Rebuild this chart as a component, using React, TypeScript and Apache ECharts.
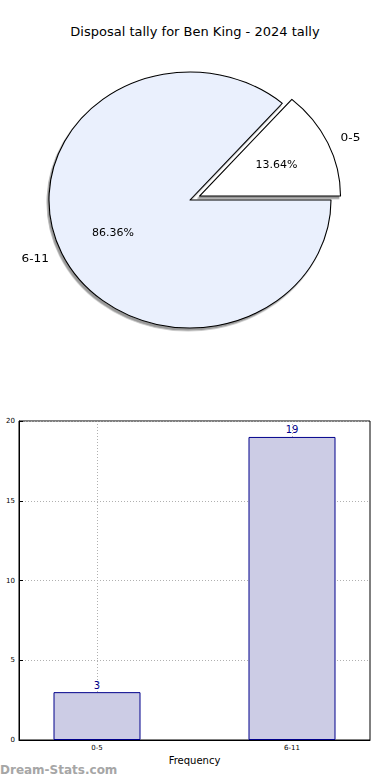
import React, { useEffect, useRef } from "react";
import * as echarts from "echarts";

const categories = ["0-5", "6-11"];
const values = [3, 19];
const sliceColors = ["#ffffff", "#eaf0fd"];
const yTicks = [0, 5, 10, 15, 20];
const titleText = "Disposal tally for Ben King - 2024 tally";

const FONT = "DejaVu Sans";
const RX = 141;
const RY = 128;

export default function App() {
  const pieRef = useRef<HTMLDivElement>(null);
  const barRef = useRef<HTMLDivElement>(null);

  useEffect(() => {
    const bar = echarts.init(barRef.current!, undefined, { renderer: "svg" });
    const pie = echarts.init(pieRef.current!, undefined, { renderer: "svg" });

    bar.setOption({
      animation: false,
      title: {
        text: titleText,
        left: "center",
        top: 20,
        textStyle: { fontFamily: FONT, fontSize: 13, fontWeight: "normal", color: "#000" },
      },
      graphic: [
        {
          type: "text",
          left: 0,
          top: 764,
          style: { text: "Dream-Stats.com", fill: "#a6a6a6", font: `bold 12px '${FONT}'` },
        },
      ],
      grid: {
        left: 19,
        right: 20,
        top: 421,
        bottom: 40,
        show: true,
        borderColor: "#000",
        borderWidth: 1,
        containLabel: false,
        outerBoundsMode: "none",
      },
      xAxis: {
        type: "value",
        min: -0.4,
        max: 1.4,
        name: "Frequency",
        nameLocation: "middle",
        nameGap: 15,
        nameTextStyle: { fontFamily: FONT, fontSize: 10, color: "#000" },
        axisLine: { show: true, onZero: false, lineStyle: { color: "#000" } },
        axisTick: { show: true, inside: true, length: 4, customValues: [0, 1], lineStyle: { color: "#000" } },
        axisLabel: {
          customValues: [0, 1],
          formatter: (v: number) => categories[Math.round(v)] ?? "",
          fontFamily: FONT,
          fontSize: 7,
          color: "#000",
          margin: 4,
        },
        splitLine: { show: true, lineStyle: { color: "#b0b0b0", type: [1, 2] } },
      },
      yAxis: {
        type: "value",
        min: yTicks[0],
        max: yTicks[yTicks.length - 1],
        interval: 5,
        name: "Disposal tally",
        nameLocation: "middle",
        nameGap: 20,
        nameTextStyle: { fontFamily: FONT, fontSize: 9, color: "#000" },
        axisLine: { show: true, onZero: false, lineStyle: { color: "#000" } },
        axisTick: { show: true, inside: true, length: 4, lineStyle: { color: "#000" } },
        axisLabel: { fontFamily: FONT, fontSize: 7, color: "#000", margin: 4 },
        splitLine: { show: true, lineStyle: { color: "#b0b0b0", type: [1, 2] } },
      },
      series: [
        {
          type: "bar",
          data: categories.map((c, i) => [i, values[i]]),
          barWidth: 87,
          itemStyle: { color: "#ccccE5", borderColor: "#00008B", borderWidth: 1 },
          label: {
            show: true,
            position: "top",
            distance: 2,
            color: "#00008B",
            fontFamily: FONT,
            fontSize: 10,
            formatter: (p: any) => String(p.value[1]),
          },
          emphasis: { disabled: true },
        },
      ],
    });

    const pieData = categories.map((c, i) => ({
      name: c,
      value: values[i],
      selected: i === 0,
      itemStyle: { color: sliceColors[i] },
    }));

    pie.setOption({
      animation: false,
      series: [
        {
          type: "pie",
          center: [190, 200],
          radius: RY,
          startAngle: 0,
          clockwise: false,
          selectedMode: "single",
          selectedOffset: 9.5,
          avoidLabelOverlap: false,
          data: pieData,
          itemStyle: {
            borderColor: "#000",
            borderWidth: 1,
            shadowColor: "rgba(0,0,0,0.4)",
            shadowOffsetX: -1.5,
            shadowOffsetY: 2.5,
            shadowBlur: 0,
          },
          select: { itemStyle: { borderColor: "#000", borderWidth: 1 } },
          label: {
            show: true,
            position: "outside",
            formatter: "{b}",
            fontFamily: FONT,
            fontSize: 11,
            color: "#000",
            distanceToLabelLine: 0,
          },
          labelLine: { show: false, length: RY * 0.1, length2: 0 },
          emphasis: { disabled: true },
        },
        {
          type: "pie",
          center: [190, 200],
          radius: RY * 1.2 - 6,
          startAngle: 0,
          clockwise: false,
          selectedMode: "single",
          selectedOffset: 9.5,
          avoidLabelOverlap: false,
          silent: true,
          data: pieData.map((d) => ({ ...d, itemStyle: { color: "transparent" } })),
          itemStyle: { borderWidth: 0 },
          select: { itemStyle: { borderWidth: 0, color: "transparent" } },
          label: {
            show: true,
            position: "inside",
            formatter: (p: any) => `${p.percent.toFixed(2)}%`,
            fontFamily: FONT,
            fontSize: 10,
            color: "#000",
          },
          labelLine: { show: false },
          emphasis: { disabled: true },
        },
      ],
    });

    return () => {
      bar.dispose();
      pie.dispose();
    };
  }, []);

  return (
    <div style={{ position: "absolute", left: 0, top: 0, width: 390, height: 780, background: "#fff" }}>
      <div ref={barRef} style={{ position: "absolute", left: 0, top: 0, width: 390, height: 780 }} />
      <div
        ref={pieRef}
        style={{
          position: "absolute",
          left: 0,
          top: 0,
          width: 390,
          height: 400,
          transform: `scaleX(${RX / RY})`,
          transformOrigin: "190px 200px",
        }}
      />
    </div>
  );
}
